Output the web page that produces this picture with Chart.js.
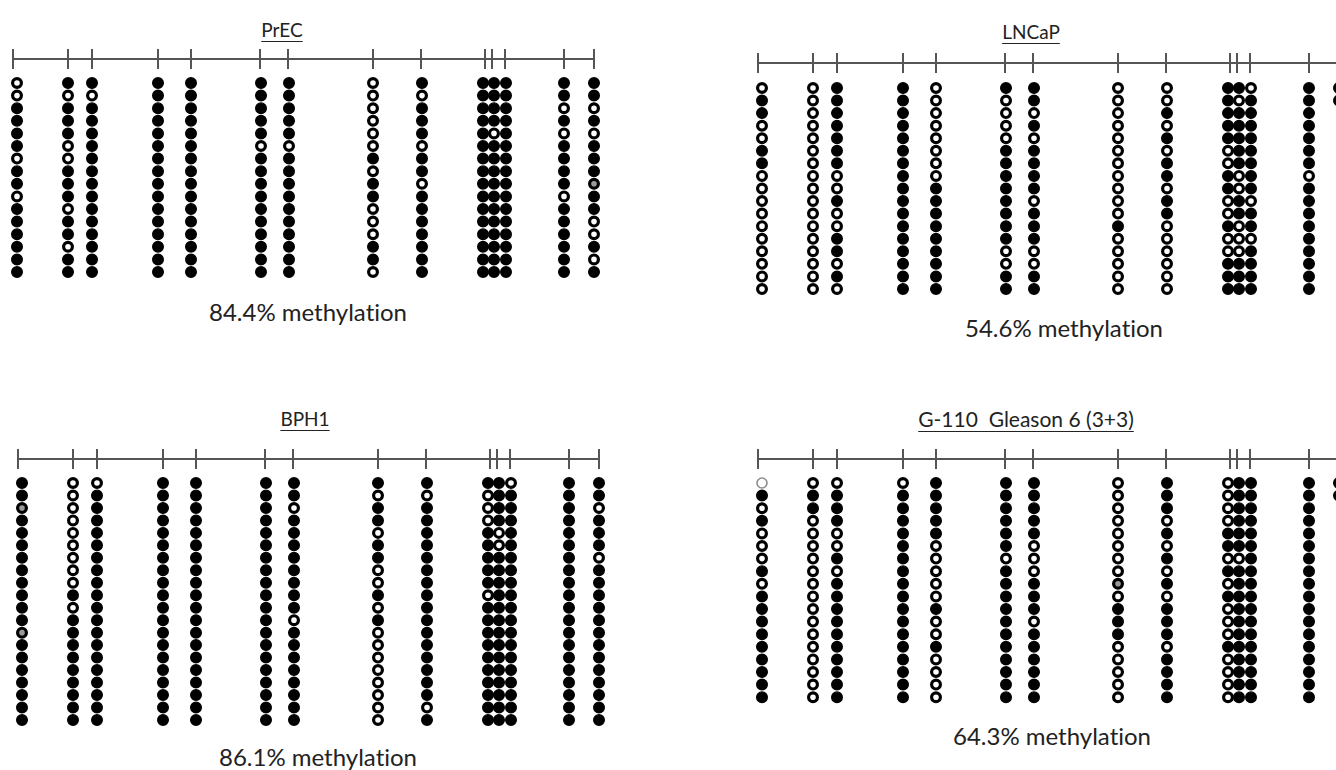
<!DOCTYPE html>
<html>
<head>
<meta charset="utf-8">
<script src="https://cdn.jsdelivr.net/npm/chart.js@4.4.0/dist/chart.umd.min.js"></script>
<style>
  body { margin: 0; background: #fff; width: 1336px; height: 770px; overflow: hidden; position: relative; font-family: Lato, "Open Sans", sans-serif; color: #222; font-variant-ligatures: none; }
  canvas { position: absolute; }
  .title { position: absolute; font-size: 19px; text-decoration: underline; text-underline-offset: 4px; text-decoration-thickness: 1px; white-space: pre; transform: translateX(-50%); }
  .pct { position: absolute; font-size: 24px; white-space: pre; transform: translateX(-50%); }
</style>
</head>
<body>

<div class="title" style="left:282px; top:18px;">PrEC</div>
<div class="title" style="left:1031px; top:20px;">LNCaP</div>
<div class="title" style="left:305px; top:407px;">BPH1</div>
<div class="title" style="left:1026px; top:406px; font-size:21px;">G-110  Gleason 6 (3+3)</div>

<div class="pct" style="left:308px; top:297px;">84.4% methylation</div>
<div class="pct" style="left:1064px; top:313px;">54.6% methylation</div>
<div class="pct" style="left:318px; top:742px;">86.1% methylation</div>
<div class="pct" style="left:1052px; top:721px;">64.3% methylation</div>

<canvas id="prec" width="668" height="385" style="left:0; top:0;"></canvas>
<canvas id="lncap" width="668" height="385" style="left:668px; top:0;"></canvas>
<canvas id="bph1" width="668" height="385" style="left:0; top:385px;"></canvas>
<canvas id="g110" width="668" height="385" style="left:668px; top:385px;"></canvas>

<script>
// CpG site positions along the amplicon (same region in every sample)
var cpgSites = [0, 55, 79, 145, 178, 247, 275, 360, 408, 472, 479, 492, 551, 581];
// where the circle columns sit (the close triple is spread out)
var dotPos = [4, 55, 79, 145, 178, 248, 276, 360, 409, 470, 481, 493, 551, 581];

// one string per CpG column, top clone first: 1 = methylated, 0 = unmethylated,
// g = grey (ambiguous), f = faint open circle
var precCols = [
  "0011110110111111", "1011100111011011", "1011111111111111", "1111111111111111",
  "1111111111111111", "1111101111111111", "1111101111111111", "0000001011000110",
  "1011101101111111", "1111111111111111", "1111011111111111", "1111111111111111",
  "1101011110111111", "11010111g1100101"
];
var lncapCols = [
  "01100110000000000", "00000000000000000", "11111110010011010", "11111111111111111",
  "00000000111111111", "10000111111110011", "11010111101110011", "00000000000100000",
  "00101011011000000", "11111001100100111", "10111110011000111", "01111111101101111",
  "11111110111111111", "10000001100110011"
];
var bph1Cols = [
  "11g111111111g1111111", "00000000010111111111", "01111111111111111111", "11111111111111111111",
  "11111111111111111111", "11111111111111111111", "11011111111011111111", "10110110010100000000",
  "10111111111111111101", "10001111101111111111", "11110011111111111111", "01111111111111111111",
  "11111111111111111111", "11011101111111111111"
];
var g110Cols = [
  "f10100010111111111", "011000000000000000", "011100101111111111", "011111111111111111",
  "111110000010010000", "111111011111111111", "111110001110111111", "00000000g011100000",
  "111010101011101111", "000011010100010000", "111111011111111111", "111111111111111111",
  "111111111111111111", "100010000110010000"
];

var lineColor = "#555";

function buildDots(cols, code) {
  var pts = [];
  cols.forEach(function (col, i) {
    for (var r = 0; r < col.length; r++) {
      if (col[r] === code) pts.push({ x: dotPos[i], y: r });
    }
  });
  return pts;
}

// panel: canvas id, data, where the site line starts on the canvas, line y, first row y, row spacing
function drawPanel(id, cols, left, lineY, rowY, step) {
  var canvas = document.getElementById(id);
  var W = canvas.width, H = canvas.height;
  var lineRow = (lineY - rowY) / step;
  var dotBase = { type: "scatter", clip: false, pointStyle: "circle" };

  new Chart(canvas.getContext("2d"), {
    type: "scatter",
    data: {
      datasets: [
        {
          type: "line", clip: false,
          data: [{ x: cpgSites[0], y: lineRow }, { x: cpgSites[cpgSites.length - 1], y: lineRow }],
          borderColor: lineColor, borderWidth: 2, pointRadius: 0
        },
        {
          type: "scatter", clip: false,
          data: cpgSites.map(function (s) { return { x: s, y: lineRow }; }),
          pointStyle: "line", rotation: 90, pointRadius: 10,
          borderColor: lineColor, pointBorderColor: lineColor, pointBorderWidth: 2
        },
        Object.assign({}, dotBase, {
          data: buildDots(cols, "1"),
          pointRadius: 5.3, pointBackgroundColor: "#000", pointBorderColor: "#000", pointBorderWidth: 1.4
        }),
        Object.assign({}, dotBase, {
          data: buildDots(cols, "0"),
          pointRadius: 4.4, pointBackgroundColor: "#fff", pointBorderColor: "#000", pointBorderWidth: 3.2
        }),
        Object.assign({}, dotBase, {
          data: buildDots(cols, "g"),
          pointRadius: 4.4, pointBackgroundColor: "#9a9a9a", pointBorderColor: "#000", pointBorderWidth: 3.2
        }),
        Object.assign({}, dotBase, {
          data: buildDots(cols, "f"),
          pointRadius: 5, pointBackgroundColor: "#fff", pointBorderColor: "#8c8c8c", pointBorderWidth: 1.6
        })
      ]
    },
    options: {
      responsive: false,
      animation: false,
      events: [],
      layout: { padding: 0, autoPadding: false },
      plugins: { legend: { display: false }, tooltip: { enabled: false } },
      scales: {
        x: { type: "linear", display: false, min: -left, max: W - left },
        y: { type: "linear", display: false, reverse: true, min: -rowY / step, max: (H - rowY) / step }
      }
    }
  });
}

drawPanel("prec", precCols, 13, 59, 83, 12.6);
drawPanel("lncap", lncapCols, 90, 63, 88, 12.56);
drawPanel("bph1", bph1Cols, 18, 459 - 385, 483 - 385, 12.47);
drawPanel("g110", g110Cols, 90, 459 - 385, 483 - 385, 12.6);
</script>
</body>
</html>
